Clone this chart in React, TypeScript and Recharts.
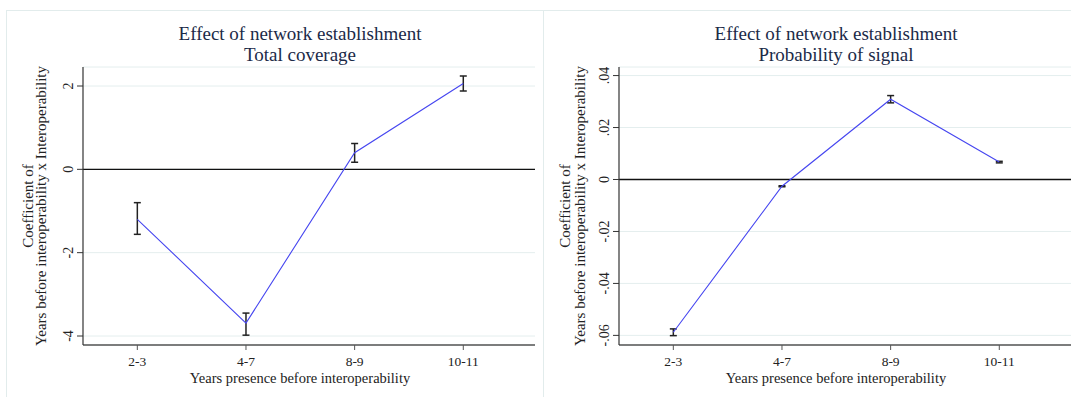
import { CartesianGrid, ComposedChart, ErrorBar, Line, ReferenceLine, XAxis, YAxis } from 'recharts';

const categories = ['2-3', '4-7', '8-9', '10-11'];

const coverageCoef = [-1.2, -3.69, 0.4, 2.06];
const coverageLow = [-1.56, -3.98, 0.17, 1.88];
const coverageHigh = [-0.8, -3.45, 0.62, 2.24];
const coverageTicks = [-4, -2, 0, 2];

const signalCoef = [-0.0588, -0.0026, 0.0309, 0.0067];
const signalLow = [-0.0601, -0.0028, 0.0295, 0.0064];
const signalHigh = [-0.0575, -0.0024, 0.0323, 0.007];
const signalTicks = [-0.06, -0.04, -0.02, 0, 0.02, 0.04];

const FONT = '"Liberation Serif", "Times New Roman", serif';
const TITLE = '#1b2a48';

const buildRows = (coef: number[], low: number[], high: number[]) =>
  categories.map((c, i) => ({
    pos: i + 1,
    name: c,
    coef: coef[i],
    err: [coef[i] - low[i], high[i] - coef[i]],
  }));

const fmtSignal = (v: number) => {
  if (Math.abs(v) < 1e-9) return '0';
  return v.toFixed(2).replace('0.', '.');
};

const YTick = ({ x, y, payload, fmt }: any) => (
  <text
    transform={`translate(${x},${y}) rotate(-90)`}
    textAnchor="middle"
    fontSize={14}
    fontFamily={FONT}
    fill="#222"
  >
    {fmt(payload.value)}
  </text>
);

const XTick = ({ x, y, payload }: any) => (
  <text x={x} y={y} dy="0.71em" textAnchor="middle" fontSize={13.5} fontFamily={FONT} fill="#222">
    {categories[payload.value - 1]}
  </text>
);

const titleLine = (left: number, top: number, text: string) => (
  <div
    style={{
      position: 'absolute',
      left,
      top,
      width: 400,
      height: 21,
      textAlign: 'center',
      fontFamily: FONT,
      fontSize: 19,
      lineHeight: '21px',
      color: TITLE,
      zIndex: 2,
      whiteSpace: 'nowrap',
    }}
  >
    {text}
  </div>
);

function Panel({ rows, ticks, domain, fmt, width, yAxisWidth, labelOffsets, title }: any) {
  const plotCenter = (yAxisWidth + width) / 2 - 9;
  return (
    <div style={{ position: 'relative', width, height: 397 }}>
      {titleLine(plotCenter - 200, 22.5, 'Effect of network establishment')}
      {titleLine(plotCenter - 200, 43.5, title)}
      <ComposedChart
        width={width}
        height={397}
        data={rows}
        margin={{ top: 67, right: 0, bottom: 0, left: 0 }}
      >
        <CartesianGrid horizontal vertical={false} stroke="#e4eeee" strokeWidth={1} />
        <XAxis
          dataKey="pos"
          type="number"
          domain={[0.5, 4.66]}
          ticks={[1, 2, 3, 4]}
          allowDataOverflow
          height={52}
          tick={<XTick />}
          tickSize={5}
          tickMargin={6}
          axisLine={{ stroke: '#555', strokeWidth: 1.3 }}
          tickLine={{ stroke: '#555', strokeWidth: 1 }}
          label={{
            content: (p: any) => (
              <text
                x={plotCenter}
                y={p.viewBox.y + 38}
                textAnchor="middle"
                fontSize={14.5}
                fontFamily={FONT}
                fill="#222"
              >
                Years presence before interoperability
              </text>
            ),
          }}
        />
        <YAxis
          type="number"
          domain={domain}
          ticks={ticks}
          allowDataOverflow
          width={yAxisWidth}
          tick={<YTick fmt={fmt} />}
          tickSize={6}
          tickMargin={4}
          axisLine={{ stroke: '#333', strokeWidth: 1.2 }}
          tickLine={{ stroke: '#333', strokeWidth: 1 }}
          label={{
            content: (p: any) => {
              const cy = p.viewBox.y + p.viewBox.height / 2;
              return (
                <g fontFamily={FONT} fontSize={15} fill="#222" textAnchor="middle">
                  <text transform={`translate(${yAxisWidth + labelOffsets[0]},${cy}) rotate(-90)`}>
                    Coefficient of
                  </text>
                  <text transform={`translate(${yAxisWidth + labelOffsets[1]},${cy}) rotate(-90)`}>
                    Years before interoperability x Interoperability
                  </text>
                </g>
              );
            },
          }}
        />
        <ReferenceLine y={0} stroke="#111" strokeWidth={1.3} />
        <Line
          dataKey="coef"
          type="linear"
          stroke="#4646f0"
          strokeWidth={1.1}
          dot={false}
          activeDot={false}
          isAnimationActive={false}
        >
          <ErrorBar dataKey="err" width={3.5} stroke="#222" strokeWidth={1.5} direction="y" isAnimationActive={false} />
        </Line>
      </ComposedChart>
    </div>
  );
}

export default function App() {
  return (
    <div style={{ position: 'relative', width: 1071, height: 397, background: '#fff', overflow: 'hidden' }}>
      <style>{`body{margin:0}`}</style>
      <div
        style={{
          position: 'absolute',
          left: 6,
          top: 10,
          width: 1100,
          height: 400,
          borderLeft: '1px solid #e2ecec',
          borderTop: '1px solid #e2ecec',
        }}
      />
      <div style={{ position: 'absolute', left: 543, top: 10, width: 1, height: 400, background: '#e2ecec' }} />
      <div style={{ position: 'absolute', left: 0, top: 0 }}>
        <Panel
          rows={buildRows(coverageCoef, coverageLow, coverageHigh)}
          ticks={coverageTicks}
          domain={[-4.216, 2.456]}
          fmt={(v: number) => String(v)}
          width={535}
          yAxisWidth={83}
          labelOffsets={[-50, -37]}
          title="Total coverage"
        />
      </div>
      <div style={{ position: 'absolute', left: 543, top: 0 }}>
        <Panel
          rows={buildRows(signalCoef, signalLow, signalHigh)}
          ticks={signalTicks}
          domain={[-0.0637, 0.0433]}
          fmt={fmtSignal}
          width={528}
          yAxisWidth={76}
          labelOffsets={[-49, -34]}
          title="Probability of signal"
        />
      </div>
    </div>
  );
}
